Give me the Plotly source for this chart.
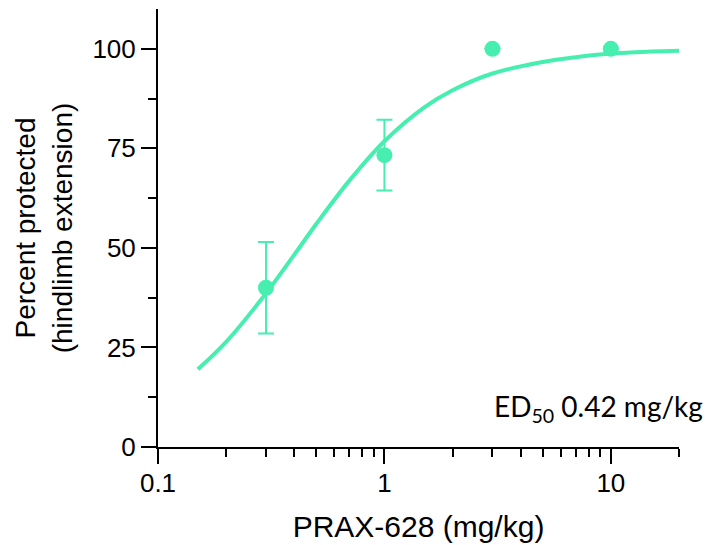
import plotly.graph_objects as go

# observed data points
dose = [0.3, 1, 3, 10]
protected = [40.0, 73.3, 100.0, 100.0]
sem = [11.5, 8.9, 0, 0]

# fitted curve
fit_dose = [0.15, 0.2, 0.3, 0.4, 0.5, 0.7, 1, 1.5, 2, 3, 5, 7, 10, 15, 20]
fit_protected = [19.5, 26.4, 38.6, 48.3, 56.0, 66.9, 76.8, 85.3, 89.6, 93.8, 96.7, 97.9, 98.8, 99.3, 99.5]

major_x = [0.1, 1, 10]
major_x_text = ["0.1", "1", "10"]
minor_x = [0.2, 0.3, 0.4, 0.5, 0.6, 0.7, 0.8, 0.9,
           2, 3, 4, 5, 6, 7, 8, 9, 20]

GREEN = "#46EEB0"
FONT = "Liberation Sans, Arial, sans-serif"

fig = go.Figure()

fig.add_trace(go.Scatter(
    x=fit_dose, y=fit_protected,
    mode="lines",
    line=dict(color=GREEN, width=4, shape="spline", smoothing=1),
    showlegend=False,
))

fig.add_trace(go.Scatter(
    x=dose, y=protected,
    mode="markers",
    marker=dict(color=GREEN, size=16),
    error_y=dict(type="data", array=sem, visible=True,
                 color=GREEN, thickness=2, width=8),
    showlegend=False,
))

fig.add_annotation(
    text="ED<sub>50</sub> 0.42 mg/kg",
    x=1.049, y=0.09, xref="paper", yref="paper",
    xanchor="right", yanchor="middle",
    showarrow=False,
    font=dict(family="Lato, Open Sans, sans-serif", size=28, color="black"),
)

fig.update_xaxes(
    type="log",
    range=[-1, 1.301],
    tickvals=major_x, ticktext=major_x_text,
    ticks="outside", ticklen=15, tickwidth=2, tickcolor="black",
    minor=dict(tickvals=minor_x, ticks="outside", ticklen=8,
               tickwidth=2, tickcolor="black", showgrid=False),
    showline=True, linecolor="black", linewidth=2,
    showgrid=False, zeroline=False,
    tickfont=dict(family=FONT, size=26, color="black"),
    ticklabelstandoff=-3,
    title=dict(text="PRAX-628 (mg/kg)",
               font=dict(family=FONT, size=30, color="black"), standoff=19),
)

fig.update_yaxes(
    range=[0, 110],
    tickvals=[0, 25, 50, 75, 100],
    ticks="outside", ticklen=15, tickwidth=2, tickcolor="black",
    minor=dict(tickvals=[12.5, 37.5, 62.5, 87.5], ticks="outside", ticklen=8,
               tickwidth=2, tickcolor="black", showgrid=False),
    showline=True, linecolor="black", linewidth=2,
    showgrid=False, zeroline=False,
    tickfont=dict(family=FONT, size=26, color="black"),
    title=dict(text="Percent protected<br>(hindlimb extension)",
               font=dict(family=FONT, size=28, color="black"), standoff=12),
)

fig.update_layout(
    width=705, height=537,
    margin=dict(l=150, r=34, t=1, b=98),
    paper_bgcolor="white", plot_bgcolor="white",
)

fig.write_html("out.html")
